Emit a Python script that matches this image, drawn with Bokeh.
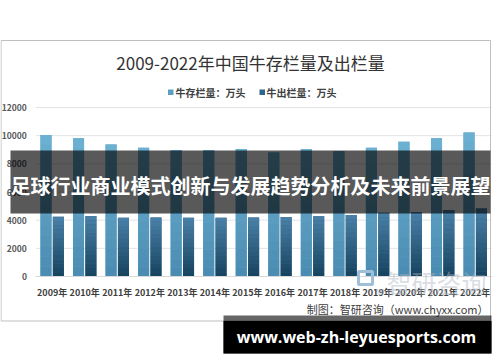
from bokeh.plotting import figure
from bokeh.models import Range1d, FixedTicker, Label, BoxAnnotation, ColumnDataSource, LinearAxis
from bokeh.transform import dodge
from bokeh.embed import file_html
from bokeh.resources import INLINE

# ---------------- data ----------------
years = ["2009年", "2010年", "2011年", "2012年", "2013年", "2014年", "2015年",
         "2016年", "2017年", "2018年", "2019年", "2020年", "2021年", "2022年"]
stock = [10040, 9820, 9380, 9140, 8990, 8960, 9060, 8800, 9030, 8900, 9140, 9560, 9820, 10220]
slaughter = [4250, 4300, 4180, 4190, 4180, 4180, 4190, 4230, 4280, 4360, 4530, 4560, 4700, 4830]
y_ticks = [0, 2000, 4000, 6000, 8000, 10000, 12000]
series_names = ["牛存栏量：万头", "牛出栏量：万头"]
title_text = "2009-2022年中国牛存栏量及出栏量"
banner_text = "足球行业商业模式创新与发展趋势分析及未来前景展望"
footer_text = "www.web-zh-leyuesports.com"
source_text = "制图：智研咨询（www.chyxx.com）"
watermark_text = "智研咨询"
watermark_url = "w w w . c h y x x . c o m"

CJK = "Noto Sans CJK SC"

# ---------------- layout (canvas pixels) ----------------
W, H = 500, 362
PL, PR, PT, PB = 35.4, 491, 107, 276      # plot area edges on the canvas
n = len(years)
pos = list(range(n))                       # category index positions
px_x = (PR - PL) / n                       # pixels per category
px_y = (PB - PT) / y_ticks[-1]             # pixels per unit

x_range = Range1d(-0.5 - PL / px_x, -0.5 + (W - PL) / px_x)
y_range = Range1d(-(H - PB) / px_y, y_ticks[-1] + PT / px_y)

p = figure(width=W, height=H, x_range=x_range, y_range=y_range,
           output_backend="svg", toolbar_location=None,
           min_border=0, x_axis_type=None, y_axis_type=None)
p.outline_line_color = None
p.background_fill_color = "white"
p.border_fill_color = "white"
p.grid.visible = False

# horizontal grid lines at the y ticks, across the category span
p.segment(x0=[pos[0] - 0.5] * len(y_ticks), x1=[pos[-1] + 0.5] * len(y_ticks),
          y0=y_ticks, y1=y_ticks, line_color="#e3e3e3", line_width=1)

# y axis drawn at the left edge of the category span
yaxis = LinearAxis(ticker=FixedTicker(ticks=y_ticks), fixed_location=pos[0] - 0.5)
yaxis.axis_line_color = None
yaxis.major_tick_line_color = None
yaxis.major_tick_out = 0
yaxis.major_tick_in = 0
yaxis.minor_tick_line_color = None
yaxis.major_label_standoff = 9
yaxis.major_label_text_font = CJK
yaxis.major_label_text_font_size = "8.5px"
yaxis.major_label_text_font_style = "bold"
yaxis.major_label_text_color = "#595959"
p.add_layout(yaxis, "left")

# x axis with year labels at category positions
xaxis = LinearAxis(ticker=FixedTicker(ticks=pos), fixed_location=0,
                   major_label_overrides={i: y for i, y in zip(pos, years)},
                   bounds=(pos[0] - 0.5, pos[-1] + 0.5))
xaxis.axis_line_color = "#d9d9d9"
xaxis.major_tick_line_color = None
xaxis.major_tick_out = 0
xaxis.major_tick_in = 0
xaxis.minor_tick_line_color = None
xaxis.major_label_standoff = 9
xaxis.major_label_text_font = CJK
xaxis.major_label_text_font_size = "9px"
xaxis.major_label_text_font_style = "bold"
xaxis.major_label_text_color = "#404040"
p.add_layout(xaxis, "below")


# ---------------- bars with vertical gradient ----------------
def hex2rgb(h):
    h = h.lstrip("#")
    return tuple(int(h[i:i + 2], 16) for i in (0, 2, 4))


def lerp(c0, c1, t):
    a, b = hex2rgb(c0), hex2rgb(c1)
    return "#%02x%02x%02x" % tuple(round(a[i] + (b[i] - a[i]) * t) for i in range(3))


N = 14
BAR_W = 0.34
series = [
    (stock, -0.19, "#4a8cb1", "#6cb0d2"),
    (slaughter, 0.19, "#15425d", "#4b81a9"),
]
for vals, off, c_bot, c_top in series:
    base = ColumnDataSource(dict(x=pos, top=vals))
    p.vbar(x=dodge("x", off), top="top", bottom=0, width=BAR_W, source=base,
           fill_color=lerp(c_bot, c_top, 0.5), line_color=None)
    for k in range(N):
        src = ColumnDataSource(dict(
            x=pos,
            bottom=[v * k / N for v in vals],
            top=[v * (k + 1) / N for v in vals],
        ))
        p.vbar(x=dodge("x", off), top="top", bottom="bottom", width=BAR_W,
               source=src, fill_color=lerp(c_bot, c_top, (k + 0.5) / N), line_color=None)


# ---------------- decorations (screen units, from canvas top-left) ----------------
def cx(X):
    return X


def cy(Y):
    return H - Y


def box(l, r, t, b, fill=None, alpha=1.0, line=None, lw=1):
    return BoxAnnotation(left=cx(l), right=cx(r), top=cy(t), bottom=cy(b),
                         left_units="screen", right_units="screen",
                         top_units="screen", bottom_units="screen",
                         fill_color=fill if fill else "white", fill_alpha=alpha if fill else 0,
                         line_color=line if line else "white", line_alpha=1 if line else 0,
                         line_width=lw, level="annotation")


def label(X, Y, text, size, color="#404040", style="normal", align="left", font=CJK,
          alpha=1.0, baseline="middle"):
    return Label(x=cx(X), y=cy(Y), x_units="screen", y_units="screen", text=text,
                 text_font=font, text_font_size=size, text_font_style=style,
                 text_color=color, text_alpha=alpha, text_align=align, text_baseline=baseline)


# chart border
p.add_layout(box(0.5, 490, 40, 320.5, line="#bfbfbf"))

# title
p.add_layout(label(250, 62, title_text, "17px", color="#333333", align="center"))

# legend
p.add_layout(box(167.5, 173, 89, 94.5, fill="#5b9fc3"))
p.add_layout(label(175, 92, series_names[0], "10px", style="bold"))
p.add_layout(box(259, 264.5, 89, 94.5, fill="#2e668a"))
p.add_layout(label(266, 92, series_names[1], "10px", style="bold"))

# watermark
p.add_layout(box(358, 372, 271, 284, line="#9fbfd9", lw=3))
p.add_layout(label(386, 281, watermark_text, "25px", color="#aab4bf", alpha=0.45))
p.add_layout(label(376, 290, watermark_url, "10px", color="#aab4bf", alpha=0.6))

# source note
p.add_layout(label(488, 308, source_text, "11px", color="#404040", align="right"))

# middle banner
p.add_layout(box(10, 490, 150, 213, fill="black", alpha=0.65))
p.add_layout(label(250, 185, banner_text, "20px", color="white", style="bold", align="center"))

# bottom banner
p.add_layout(box(223, 491, 315, 353, fill="black", alpha=0.6))
p.add_layout(box(223, 491, 320.5, 353, fill="black", alpha=1.0))
p.add_layout(label(356, 336, footer_text, "16px", color="white", style="bold", align="center",
                   font="Open Sans"))

open("out.html", "w", encoding="utf-8").write(file_html(p, INLINE))
